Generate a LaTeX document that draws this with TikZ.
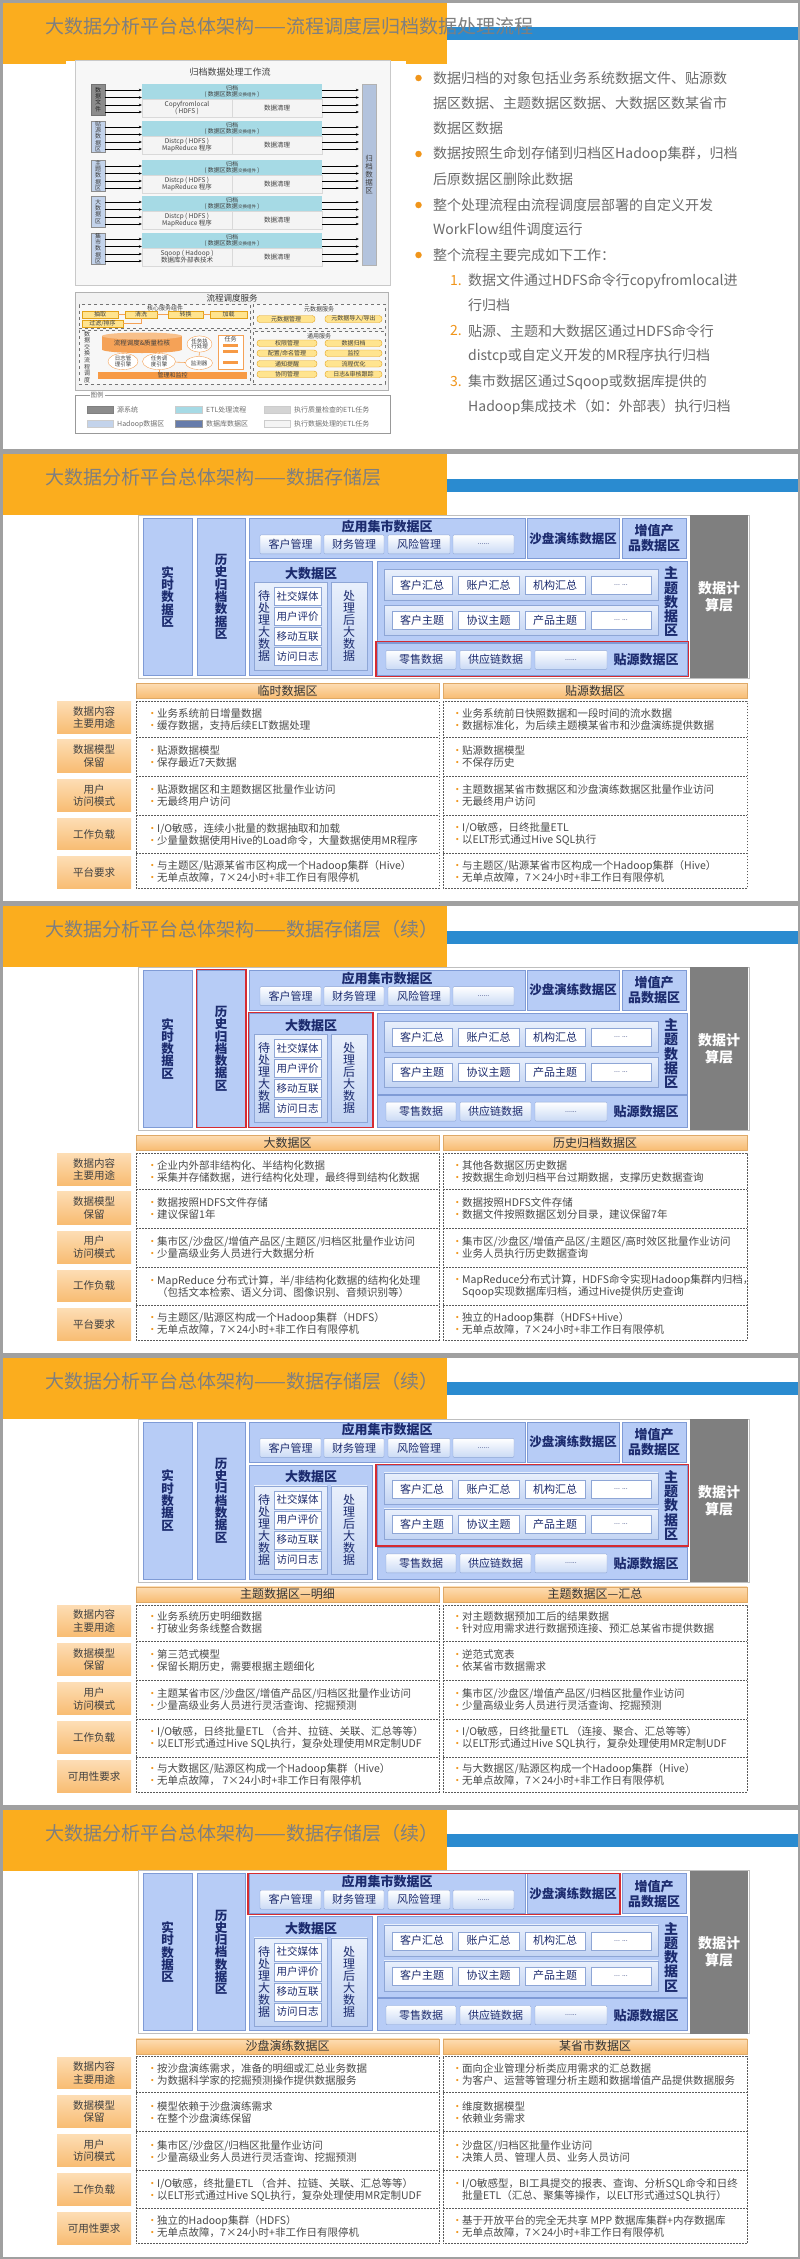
\documentclass[tikz,border=0pt]{standalone}
\usepackage{fontspec}
\setmainfont{Noto Sans CJK SC}
\usetikzlibrary{shapes.geometric,arrows.meta}
\definecolor{org}{HTML}{FBAD1E}
\definecolor{blu}{HTML}{2A8BD0}
\definecolor{ttl}{HTML}{7F7F7F}
\definecolor{frm}{HTML}{A0A0A0}
\definecolor{zf}{HTML}{B7CCF6}
\definecolor{zb}{HTML}{7F9BD6}
\definecolor{nav}{HTML}{1C2B6E}
\definecolor{itb}{HTML}{CADAF5}
\definecolor{itbd}{HTML}{8EA6D6}
\definecolor{rowt}{HTML}{E9F0FC}
\definecolor{rowb}{HTML}{C3D4F3}
\definecolor{calc}{HTML}{7F7F7F}
\definecolor{hl}{HTML}{D52B32}
\definecolor{lbt}{HTML}{FDDDB4}
\definecolor{lbb}{HTML}{F8BC72}
\definecolor{txt}{HTML}{4A4A4A}
\definecolor{bul}{HTML}{F0951A}
\definecolor{tdc}{HTML}{5A5A5A}
\definecolor{wfbg}{HTML}{F7F7F7}
\definecolor{wfbd}{HTML}{C9C9C9}
\definecolor{srcd}{HTML}{8C8C8C}
\definecolor{srcl}{HTML}{C3D3EB}
\definecolor{band}{HTML}{A6DAE5}
\definecolor{low}{HTML}{F4F4F4}
\definecolor{arch}{HTML}{B3C3DD}
\definecolor{yfill}{HTML}{FFE48F}
\definecolor{ydraw}{HTML}{E3A21A}
\definecolor{cylc}{HTML}{F5A257}
\definecolor{cyltop}{HTML}{F8C08A}
\definecolor{barc}{HTML}{F79A45}
\definecolor{legtxt}{HTML}{6E6E6E}
\definecolor{rtxt}{HTML}{6B6B6B}

\newcommand{\bx}[7]{\node[#6,minimum width={((#4)-(#2))*1pt},minimum height={((#5)-(#3))*1pt},inner sep=0pt] (#1) at ({((#2)+(#4))/2},{((#3)+(#5))/2}) {#7};}
\newcommand{\bl}{\makebox[10pt][l]{\textcolor{bul}{•}}}
\newcommand{\cn}{\hspace*{10pt}}

\tikzset{
 zone/.style={draw=zb,fill=zf,line width=0.7pt},
 ztitle/.style={font=\fontsize{13}{13}\selectfont\bfseries,text=nav},
 vtxt/.style={align=center,font=\fontsize{12.5}{12.3}\selectfont\bfseries,text=nav},
 vsm/.style={align=center,font=\fontsize{12}{12}\selectfont,text=nav},
 itm/.style={draw=itbd,top color=white,bottom color=itb,rounded corners=1pt,font=\fontsize{11}{11}\selectfont,text=nav},
 witm/.style={draw=itbd,fill=white,font=\fontsize{10.5}{10.5}\selectfont,text=nav},
 subb/.style={draw=itbd,top color=rowt,bottom color=rowb},
 calcst/.style={fill=calc,text=white,align=center,font=\fontsize{14}{17}\selectfont\bfseries},
 dgframe/.style={draw=black!25,fill=white,line width=0.5pt},
 hilite/.style={draw=hl,line width=1.3pt},
 hdr/.style={draw=lbb!90!black,top color=lbt,bottom color=lbb,font=\fontsize{12}{12}\selectfont,text=black!80},
 lab/.style={top color=lbt,bottom color=lbb,align=center,font=\fontsize{10.5}{12.5}\selectfont,text=black!75},
 cell/.style={anchor=west,align=left,inner sep=0pt,font=\fontsize{10.5}{12}\selectfont,text=txt},
 tdash/.style={draw=tdc,dash pattern=on 1.8pt off 1.2pt,line width=0.7pt},
 titlest/.style={font=\fontsize{19}{19}\selectfont,text=ttl,inner sep=0pt},
 rline/.style={anchor=west,inner sep=0pt,font=\fontsize{14}{14}\selectfont,text=rtxt},
 rdot/.style={circle,fill=bul,minimum size=6.5pt,inner sep=0pt},
 rnum/.style={anchor=west,inner sep=0pt,font=\fontsize{14}{14}\selectfont,text=bul},
 wfarr/.style={line width=0.6pt,-{Stealth[length=3pt,width=2.6pt]}},
 srcst/.style={draw=black!45,fill=srcl,align=center,font=\fontsize{6}{6.2}\selectfont,text=black!75},
 srcdk/.style={draw=black!55,fill=srcd,align=center,font=\fontsize{6}{6.2}\selectfont,text=black!85},
 bandst/.style={fill=band,align=center,font=\fontsize{6}{6.5}\selectfont,text=black!75},
 lowst/.style={draw=black!15,fill=low,align=center,font=\fontsize{6.5}{7}\selectfont,text=black!75},
 tiny/.style={font=\fontsize{6}{6}\selectfont,text=black!75},
 dbox/.style={draw=black!55,dashed,fill=white!97!black},
 ybox/.style={draw=ydraw,fill=yfill,font=\fontsize{6}{6}\selectfont,text=black!75},
 ryb/.style={draw=ydraw,fill=yfill,rounded corners=3pt,font=\fontsize{6}{6}\selectfont,text=black!75},
 ell/.style={ellipse,draw=cylc,fill=white,inner sep=0.3pt,align=center,font=\fontsize{5.5}{5.8}\selectfont,text=black!75},
 ol/.style={draw=cylc,line width=0.6pt},
 legtx/.style={anchor=west,inner sep=0pt,font=\fontsize{7}{7}\selectfont,text=legtxt}
}

\newcommand{\slidehead}[3]{%
\begin{scope}[shift={(0,#1)}]
\fill[blu] (447,27) rectangle (798,40);
\fill[org] (0,0) rectangle (447,63.5);
\node[titlest,anchor=west] (title#2) at (45,26) {#3};
\end{scope}}
\newcommand{\slideframe}[2]{%
\begin{scope}[shift={(0,#1)}]
\draw[frm,line width=2.5pt] (1.25,1.25) rectangle (798.75,450.55);
\end{scope}}

\newcommand{\arch}[2]{%
\begin{scope}[shift={(0,#1)}]
\bx{dg#2}{138}{63.5}{749}{226.5}{dgframe}{}
\bx{rt#2}{143}{66.5}{192}{223.5}{zone,vtxt}{实\\时\\数\\据\\区}
\bx{hg#2}{197}{66.5}{245}{223.5}{zone,vtxt}{历\\史\\归\\档\\数\\据\\区}
\bx{ym#2}{249}{66.5}{525}{106.5}{zone}{}
\node[ztitle] (ymt#2) at (387,74.5) {应用集市数据区};
\bx{ymA#2}{260}{83}{321}{102}{itm}{客户管理}
\bx{ymB#2}{324}{83}{384}{102}{itm}{财务管理}
\bx{ymC#2}{388}{83}{450}{102}{itm}{风险管理}
\bx{ymD#2}{453}{83}{514}{102}{itm,font=\fontsize{7}{7}\selectfont}{......}
\bx{sp#2}{527}{66.5}{619}{106.5}{zone,ztitle,font=\fontsize{12.5}{12.5}\selectfont\bfseries}{沙盘演练数据区}
\bx{zz#2}{622}{66.5}{686}{106.5}{zone,ztitle,align=center,font=\fontsize{13}{15}\selectfont\bfseries}{增值产\\品数据区}
\bx{js#2}{690}{63.5}{748}{226.5}{calcst}{数据计\\算层}
\bx{bd#2}{249}{109.5}{372}{223.5}{zone}{}
\node[ztitle] (bdt#2) at (311,121.5) {大数据区};
\bx{bdl#2}{254}{130.5}{327}{218.5}{subb}{}
\node[vsm] (bdlt#2) at (264,174.5) {待\\处\\理\\大\\数\\据};
\bx{bdA#2}{274}{135.5}{321}{153.5}{witm}{社交媒体}
\bx{bdB#2}{274}{155.5}{321}{173.5}{witm}{用户评价}
\bx{bdC#2}{274}{175.5}{321}{193.5}{witm}{移动互联}
\bx{bdD#2}{274}{195.5}{321}{213.5}{witm}{访问日志}
\bx{bdr#2}{331}{130.5}{367}{218.5}{subb,vsm}{处\\理\\后\\大\\数\\据}
\bx{zt#2}{377}{109.5}{687}{190.5}{zone}{}
\bx{ztr#2}{384}{117.5}{658}{148.5}{subb}{}
\bx{ztA#2}{392}{124.5}{452}{142.5}{witm,font=\fontsize{11}{11}\selectfont}{客户汇总}
\bx{ztB#2}{458}{124.5}{519}{142.5}{witm,font=\fontsize{11}{11}\selectfont}{账户汇总}
\bx{ztC#2}{525}{124.5}{585}{142.5}{witm,font=\fontsize{11}{11}\selectfont}{机构汇总}
\bx{ztD#2}{591}{124.5}{651}{142.5}{witm,font=\fontsize{7}{7}\selectfont}{... ...}
\bx{zts#2}{384}{153.5}{658}{183.5}{subb}{}
\bx{ztE#2}{392}{159.5}{452}{177.5}{witm,font=\fontsize{11}{11}\selectfont}{客户主题}
\bx{ztF#2}{458}{159.5}{519}{177.5}{witm,font=\fontsize{11}{11}\selectfont}{协议主题}
\bx{ztG#2}{525}{159.5}{585}{177.5}{witm,font=\fontsize{11}{11}\selectfont}{产品主题}
\bx{ztH#2}{591}{159.5}{651}{177.5}{witm,font=\fontsize{7}{7}\selectfont}{... ...}
\node[vtxt,font=\fontsize{14}{14.2}\selectfont\bfseries] (ztl#2) at (671,150) {主\\题\\数\\据\\区};
\bx{ty#2}{377}{191.5}{687}{223.5}{zone}{}
\bx{tyA#2}{386}{198.5}{456}{217.5}{itm}{零售数据}
\bx{tyB#2}{460}{198.5}{531}{217.5}{itm}{供应链数据}
\bx{tyC#2}{535}{198.5}{607}{217.5}{itm,font=\fontsize{7}{7}\selectfont}{......}
\node[ztitle] (tyl#2) at (646,208) {贴源数据区};
\end{scope}}

\newcommand{\tframe}[5]{%
\begin{scope}[shift={(0,#1)}]
\bx{hL#2}{136}{231.5}{439}{246.5}{hdr}{#3}
\bx{hR#2}{443}{231.5}{747}{246.5}{hdr}{#4}
\bx{lbA#2}{57}{250}{131}{281.5}{lab}{数据内容\\主要用途}
\bx{lbB#2}{57}{288}{131}{320.5}{lab}{数据模型\\保留}
\bx{lbC#2}{57}{327.5}{131}{359.5}{lab}{用户\\访问模式}
\bx{lbD#2}{57}{366.5}{131}{398}{lab}{工作负载}
\bx{lbE#2}{57}{405}{131}{437}{lab}{#5}
\draw[tdash] (136,249.5) rectangle (439,436.5);
\draw[tdash] (443,249.5) rectangle (747,436.5);
\foreach \yy in {285.5,324.5,363.5,401.5} {\draw[tdash] (136,\yy) -- (439,\yy); \draw[tdash] (443,\yy) -- (747,\yy);}
\end{scope}}

\newcommand{\tcol}[8]{%
\begin{scope}[shift={(0,#1)}]
\node[cell] (cA#2) at (#3,267.5) {#4};
\node[cell] (cB#2) at (#3,305) {#5};
\node[cell] (cC#2) at (#3,344) {#6};
\node[cell] (cD#2) at (#3,382.5) {#7};
\node[cell] (cE#2) at (#3,419.5) {#8};
\end{scope}}

\newcommand{\wfrow}[5]{% #1 id, #2 top, #3 src style, #4 src text, #5 lower-left text
\bx{src#1}{91}{#2}{105}{#2+31}{#3}{#4}
\bx{bnd#1}{142}{#2}{322}{#2+15}{bandst}{归档\\( 数据区数据{\fontsize{4.5}{5}\selectfont 交换组件} )}
\bx{lwl#1}{142}{#2+15}{232}{#2+33}{lowst}{#5}
\bx{lwr#1}{232}{#2+15}{322}{#2+33}{lowst}{数据清理}
\foreach \dy in {6,13.5,21,28} {
 \draw[wfarr] (src#1.east |- 0,{#2+\dy}) -- (bnd#1.west |- 0,{#2+\dy});
 \draw[wfarr] (bnd#1.east |- 0,{#2+\dy}) -- ([xshift=-3pt]arc.west |- 0,{#2+\dy});
}}

\begin{document}
\begin{tikzpicture}[x=1pt,y=-1pt]
\useasboundingbox (0,0) rectangle (800,2259);
\fill[white] (0,0) rectangle (800,2259);

% ---------------- slide 1 ----------------
\slidehead{0}{s1}{大数据分析平台总体架构——流程调度层归档数据处理流程}
\fill[white] (66,61) rectangle (406,441);
\bx{wf}{75}{60}{390}{285}{draw=wfbd,fill=wfbg}{}
\node[font=\fontsize{9}{9}\selectfont,text=black!75] (wft) at (230,72) {归档数据处理工作流};
\bx{arc}{362}{84}{376}{265}{draw=black!30,fill=arch,align=center,font=\fontsize{7.5}{8}\selectfont,text=black!75}{归\\档\\数\\据\\区}
\wfrow{1}{84}{srcdk}{数\\据\\文\\件}{Copyfromlocal\\( HDFS )}
\wfrow{2}{121}{srcst}{贴\\源\\数\\据\\区}{Distcp ( HDFS )\\MapReduce 程序}
\wfrow{3}{160}{srcst}{主\\题\\数\\据\\区}{Distcp ( HDFS )\\MapReduce 程序}
\wfrow{4}{196}{srcst}{大\\数\\据\\区}{Distcp ( HDFS )\\MapReduce 程序}
\wfrow{5}{233}{srcst}{集\\市\\数\\据\\区}{Sqoop ( Hadoop )\\数据库外部表技术}

\bx{sched}{75}{292}{388}{390}{draw=black!30,fill=black!5}{}
\node[font=\fontsize{8.5}{8.5}\selectfont,text=black!80] (schedt) at (232,298.5) {流程调度服务};
\bx{coreb}{79}{304.5}{250}{328.5}{dbox}{}
\node[tiny] (coret) at (165,308) {核心服务组件};
\bx{cq}{82}{311}{118}{318}{ybox}{抽取}
\bx{cx}{125}{311}{157}{318}{ybox}{清洗}
\bx{zh}{168}{311}{203}{318}{ybox}{转换}
\bx{jz}{210}{311}{247}{318}{ybox}{加载}
\bx{gl}{82}{320.5}{123}{327}{ybox}{过滤/排序}
\draw[ol] (cq) -- (cx); \draw[ol] (cx) -- (zh); \draw[ol] (zh) -- (jz);
\draw[ol] (gl.east) -| (cx.south);
\bx{flowb}{79}{330}{250}{384}{dbox}{}
\node[tiny,align=center,font=\fontsize{6}{6.6}\selectfont] (flowt) at (87,357) {数\\据\\交\\换\\流\\程\\调\\度};
\fill[cylc] (142,349.5) ellipse [x radius=40, y radius=3.5];
\bx{cyl}{102}{336}{182}{349.5}{fill=cylc,font=\fontsize{6.5}{6.5}\selectfont,text=black!75}{流程调度\&质量检核}
\fill[cyltop] (142,336) ellipse [x radius=40, y radius=3.5];
\node[ell,minimum width=30pt,minimum height=12pt] (rz) at (123,361.5) {日志管\\理引擎};
\node[ell,minimum width=33pt,minimum height=12pt] (rd) at (159,361.5) {任务调\\度引擎};
\node[ell,minimum width=25pt,minimum height=16pt] (rx) at (199.5,344) {任务执\\行处理};
\node[ell,minimum width=27pt,minimum height=13pt] (jc) at (199,363) {监测器};
\bx{rw}{218}{335}{243}{369}{draw=cylc,fill=white}{}
\node[tiny] (rwt) at (230.5,339) {任务};
\fill[barc] (223,344) rectangle (238,347);
\fill[barc] (223,350) rectangle (238,353);
\fill[barc] (223,361) rectangle (238,364);
\bx{gljk}{98}{372}{247}{378.5}{fill=barc,font=\fontsize{6}{6}\selectfont,text=black!75}{管理和监控}
\draw[ol] (rd) -- (jc);
\draw[ol] (rd.north) -- (rd.north |- cyl.south);
\draw[ol] (rd.south) -- (rd.south |- gljk.north);
\draw[ol] (rx.south) -- (jc.north);
\bx{metab}{253}{304}{385}{328.5}{dbox}{}
\node[tiny] (metat) at (319,309.5) {元数据服务};
\bx{mm}{257}{315.5}{315}{322.5}{ryb}{元数据管理}
\bx{mio}{325}{315.5}{382}{322.5}{ryb}{元数据导入/导出}
\bx{genb}{253}{331}{385}{384}{dbox}{}
\node[tiny] (gent) at (319,336) {通用服务};
\bx{gA}{257}{340}{317}{346.5}{ryb}{权限管理}
\bx{gB}{325}{340}{382}{346.5}{ryb}{数据归档}
\bx{gC}{257}{350}{317}{356.5}{ryb}{配置/命名管理}
\bx{gD}{325}{350}{382}{356.5}{ryb}{监控}
\bx{gE}{257}{360.5}{317}{367}{ryb}{通知提醒}
\bx{gF}{325}{360.5}{382}{367}{ryb}{流程优化}
\bx{gG}{257}{371}{317}{377.5}{ryb}{协同管理}
\bx{gH}{325}{371}{382}{377.5}{ryb}{日志\&审核跟踪}

\bx{leg}{75}{395}{390}{433}{draw=black!40,fill=white}{}
\node[fill=white,inner sep=1pt,font=\fontsize{6.5}{6.5}\selectfont,text=legtxt] (legt) at (97,395.5) {图例};
\bx{swA}{87}{406.5}{113}{413.5}{draw=black!50,fill=srcd}{}
\node[legtx] (slA) at (117,410) {源系统};
\bx{swB}{175}{406.5}{202}{413.5}{draw=black!20,fill=band}{}
\node[legtx] (slB) at (206,410) {ETL处理流程};
\bx{swC}{264}{406.5}{290}{413.5}{draw=black!20,fill=black!17}{}
\node[legtx] (slC) at (294,410) {执行质量检查的ETL任务};
\bx{swD}{87}{420.5}{113}{427.5}{draw=black!20,fill=srcl}{}
\node[legtx] (slD) at (117,424) {Hadoop数据区};
\bx{swE}{175}{420.5}{202}{427.5}{draw=black!40,fill=zb!80!black}{}
\node[legtx] (slE) at (206,424) {数据库数据区};
\bx{swF}{264}{420.5}{290}{427.5}{draw=black!20,fill=low}{}
\node[legtx] (slF) at (294,424) {执行数据处理的ETL任务};

% right text
\node[rdot] (d1) at (418.5,78) {};
\node[rline] (l1) at (433,78) {数据归档的对象包括业务系统数据文件、贴源数};
\node[rline] (l2) at (433,103) {据区数据、主题数据区数据、大数据区数某省市};
\node[rline] (l3) at (433,128) {数据区数据};
\node[rdot] (d2) at (418.5,154) {};
\node[rline] (l4) at (433,154) {数据按照生命划存储到归档区Hadoop集群，归档};
\node[rline] (l5) at (433,179) {后原数据区删除此数据};
\node[rdot] (d3) at (418.5,205) {};
\node[rline] (l6) at (433,205) {整个处理流程由流程调度层部署的自定义开发};
\node[rline] (l7) at (433,229.5) {WorkFlow组件调度运行};
\node[rdot] (d4) at (418.5,255) {};
\node[rline] (l8) at (433,255) {整个流程主要完成如下工作：};
\node[rnum] (n1) at (450,281) {1.};
\node[rline] (l9) at (468,281) {数据文件通过HDFS命令行copyfromlocal进};
\node[rline] (l10) at (468,305.5) {行归档};
\node[rnum] (n2) at (450,331) {2.};
\node[rline] (l11) at (468,331) {贴源、主题和大数据区通过HDFS命令行};
\node[rline] (l12) at (468,356) {distcp或自定义开发的MR程序执行归档};
\node[rnum] (n3) at (450,382) {3.};
\node[rline] (l13) at (468,382) {集市数据区通过Sqoop或数据库提供的};
\node[rline] (l14) at (468,407) {Hadoop集成技术（如：外部表）执行归档};
\slideframe{0}{s1}

% ---------------- slide 2 ----------------
\slidehead{451.8}{s2}{大数据分析平台总体架构——数据存储层}
\arch{451.8}{s2}
\begin{scope}[shift={(0,451.8)}]
\draw[hilite] (376,190) rectangle (688.5,224.5);
\end{scope}
\tframe{451.8}{s2}{临时数据区}{贴源数据区}{平台要求}
\tcol{451.8}{s2L}{147}
{\bl 业务系统前日增量数据\\\bl 缓存数据，支持后续ELT数据处理}
{\bl 贴源数据模型\\\bl 保存最近7天数据}
{\bl 贴源数据区和主题数据区批量作业访问\\\bl 无最终用户访问}
{\bl I/O敏感，连续小批量的数据抽取和加载\\\bl 少量量数据使用Hive的Load命令，大量数据使用MR程序}
{\bl 与主题区/贴源某省市区构成一个Hadoop集群（Hive）\\\bl 无单点故障，7×24小时+非工作日有限停机}
\tcol{451.8}{s2R}{452}
{\bl 业务系统前日快照数据和一段时间的流水数据\\\bl 数据标准化，为后续主题模某省市和沙盘演练提供数据}
{\bl 贴源数据模型\\\bl 不保存历史}
{\bl 主题数据某省市数据区和沙盘演练数据区批量作业访问\\\bl 无最终用户访问}
{\bl I/O敏感，日终批量ETL\\\bl 以ELT形式通过Hive SQL执行}
{\bl 与主题区/贴源某省市区构成一个Hadoop集群（Hive）\\\bl 无单点故障，7×24小时+非工作日有限停机}
\slideframe{451.8}{s2}

% ---------------- slide 3 ----------------
\slidehead{903.6}{s3}{大数据分析平台总体架构——数据存储层（续）}
\arch{903.6}{s3}
\begin{scope}[shift={(0,903.6)}]
\draw[hilite] (196.5,66) rectangle (246,224);
\draw[hilite] (248.5,109) rectangle (373,224);
\end{scope}
\tframe{903.6}{s3}{大数据区}{历史归档数据区}{平台要求}
\tcol{903.6}{s3L}{147}
{\bl 企业内外部非结构化、半结构化数据\\\bl 采集并存储数据，进行结构化处理，最终得到结构化数据}
{\bl 数据按照HDFS文件存储\\\bl 建议保留1年}
{\bl 集市区/沙盘区/增值产品区/主题区/归档区批量作业访问\\\bl 少量高级业务人员进行大数据分析}
{\bl MapReduce 分布式计算，半/非结构化数据的结构化处理\\\cn （包括文本检索、语义分词、图像识别、音频识别等）}
{\bl 与主题区/贴源区构成一个Hadoop集群（HDFS）\\\bl 无单点故障，7×24小时+非工作日有限停机}
\tcol{903.6}{s3R}{452}
{\bl 其他各数据区历史数据\\\bl 按数据生命划归档平台过期数据，支撑历史数据查询}
{\bl 数据按照HDFS文件存储\\\bl 数据文件按照数据区划分目录，建议保留7年}
{\bl 集市区/沙盘区/增值产品区/主题区/高时效区批量作业访问\\\bl 业务人员执行历史数据查询}
{\bl MapReduce分布式计算，HDFS命令实现Hadoop集群内归档，\\\cn Sqoop实现数据库归档，通过Hive提供历史查询}
{\bl 独立的Hadoop集群（HDFS+Hive）\\\bl 无单点故障，7×24小时+非工作日有限停机}
\slideframe{903.6}{s3}

% ---------------- slide 4 ----------------
\slidehead{1355.4}{s4}{大数据分析平台总体架构——数据存储层（续）}
\arch{1355.4}{s4}
\begin{scope}[shift={(0,1355.4)}]
\draw[hilite] (376,109) rectangle (688.5,190.5);
\end{scope}
\tframe{1355.4}{s4}{主题数据区—明细}{主题数据区—汇总}{可用性要求}
\tcol{1355.4}{s4L}{147}
{\bl 业务系统历史明细数据\\\bl 打破业务条线整合数据}
{\bl 第三范式模型\\\bl 保留长期历史，需要根据主题细化}
{\bl 主题某省市区/沙盘区/增值产品区/归档区批量作业访问\\\bl 少量高级业务人员进行灵活查询、挖掘预测}
{\bl I/O敏感，日终批量ETL （合并、拉链、关联、汇总等等）\\\bl 以ELT形式通过Hive SQL执行，复杂处理使用MR定制UDF}
{\bl 与大数据区/贴源区构成一个Hadoop集群（Hive）\\\bl 无单点故障， 7×24小时+非工作日有限停机}
\tcol{1355.4}{s4R}{452}
{\bl 对主题数据预加工后的结果数据\\\bl 针对应用需求进行数据预连接、预汇总某省市提供数据}
{\bl 逆范式宽表\\\bl 依某省市数据需求}
{\bl 集市区/沙盘区/增值产品区/归档区批量作业访问\\\bl 少量高级业务人员进行灵活查询、挖掘预测}
{\bl I/O敏感，日终批量ETL （连接、聚合、汇总等等）\\\bl 以ELT形式通过Hive SQL执行，复杂处理使用MR定制UDF}
{\bl 与大数据区/贴源区构成一个Hadoop集群（Hive）\\\bl 无单点故障，7×24小时+非工作日有限停机}
\slideframe{1355.4}{s4}

% ---------------- slide 5 ----------------
\slidehead{1807.2}{s5}{大数据分析平台总体架构——数据存储层（续）}
\arch{1807.2}{s5}
\begin{scope}[shift={(0,1807.2)}]
\draw[hilite] (248,66) rectangle (620,107);
\end{scope}
\tframe{1807.2}{s5}{沙盘演练数据区}{某省市数据区}{可用性要求}
\tcol{1807.2}{s5L}{147}
{\bl 按沙盘演练需求，准备的明细或汇总业务数据\\\bl 为数据科学家的挖掘预测操作提供数据服务}
{\bl 模型依赖于沙盘演练需求\\\bl 在整个沙盘演练保留}
{\bl 集市区/沙盘区/归档区批量作业访问\\\bl 少量高级业务人员进行灵活查询、挖掘预测}
{\bl I/O敏感，终批量ETL （合并、拉链、关联、汇总等等）\\\bl 以ELT形式通过Hive SQL执行，复杂处理使用MR定制UDF}
{\bl 独立的Hadoop集群（HDFS）\\\bl 无单点故障，7×24小时+非工作日有限停机}
\tcol{1807.2}{s5R}{452}
{\bl 面向企业管理分析类应用需求的汇总数据\\\bl 为客户、运营等管理分析主题和数据增值产品提供数据服务}
{\bl 维度数据模型\\\bl 依赖业务需求}
{\bl 沙盘区/归档区批量作业访问\\\bl 决策人员、管理人员、业务人员访问}
{\bl I/O敏感型，BI工具提交的报表、查询、分析SQL命令和日终\\\cn 批量ETL（汇总、聚集等操作，以ELT形式通过SQL执行）}
{\bl 基于开放平台的完全无共享 MPP 数据库集群+内存数据库\\\bl 无单点故障，7×24小时+非工作日有限停机}
\slideframe{1807.2}{s5}
\end{tikzpicture}
\end{document}
